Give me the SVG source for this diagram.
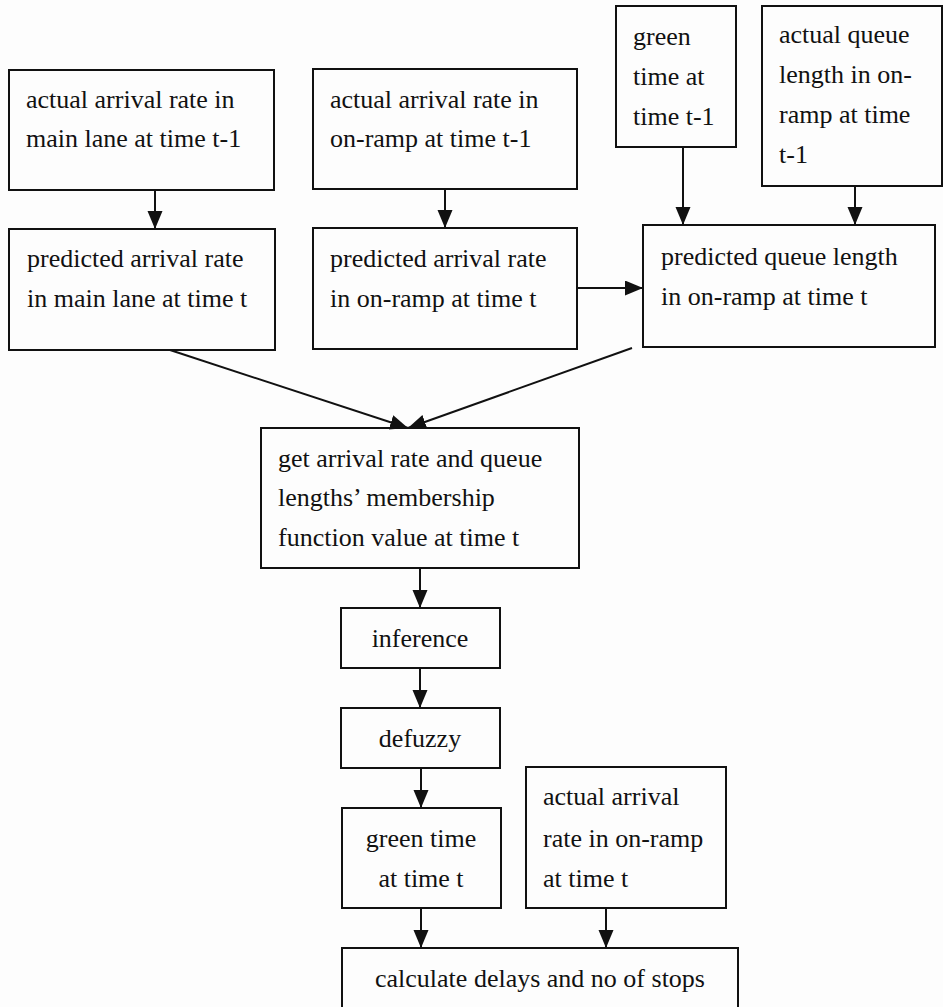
<svg xmlns="http://www.w3.org/2000/svg" width="943" height="1007" viewBox="0 0 943 1007">
<defs>
<style>
.box{fill:none;stroke:#111;stroke-width:2}
.t{font-family:"Liberation Serif","Times New Roman",serif;font-size:26px;fill:#111}
.c{text-anchor:middle}
.e{stroke:#111;stroke-width:2;fill:none;marker-end:url(#ah)}
</style>
<marker id="ah" markerUnits="userSpaceOnUse" markerWidth="18" markerHeight="16" refX="18" refY="7.5" orient="auto">
<path d="M0,0 L18,7.5 L0,15 Z" fill="#111"/>
</marker>
</defs>
<rect width="943" height="1007" fill="#fdfdfd"/>
<g id="connectors">
<line class="e" x1="155" y1="190" x2="155" y2="229"/>
<line class="e" x1="445" y1="189" x2="445" y2="228"/>
<line class="e" x1="683" y1="147" x2="683" y2="225"/>
<line class="e" x1="855" y1="186" x2="855" y2="225"/>
<line class="e" x1="577" y1="288" x2="643" y2="288"/>
<line class="e" x1="170" y1="350" x2="408" y2="428"/>
<line class="e" x1="632" y1="348" x2="408" y2="428"/>
<line class="e" x1="420" y1="568" x2="420" y2="608"/>
<line class="e" x1="420" y1="668" x2="420" y2="708"/>
<line class="e" x1="421" y1="768" x2="421" y2="808"/>
<line class="e" x1="421" y1="908" x2="421" y2="948"/>
<line class="e" x1="606" y1="908" x2="606" y2="948"/>
</g>
<g id="n_actual_main">
<rect class="box" x="9" y="70" width="265" height="120"/>
<text class="t" x="26" y="108">actual arrival rate in</text>
<text class="t" x="26" y="147">main lane at time t-1</text>
</g>
<g id="n_actual_ramp">
<rect class="box" x="313" y="69" width="264" height="120"/>
<text class="t" x="330" y="108">actual arrival rate in</text>
<text class="t" x="330" y="147">on-ramp at time t-1</text>
</g>
<g id="n_green_prev">
<rect class="box" x="616" y="6" width="120" height="141"/>
<text class="t" x="633" y="45">green</text>
<text class="t" x="633" y="85">time at</text>
<text class="t" x="633" y="125">time t-1</text>
</g>
<g id="n_queue_prev">
<rect class="box" x="762" y="6" width="180" height="180"/>
<text class="t" x="779" y="43">actual queue</text>
<text class="t" x="779" y="83">length in on-</text>
<text class="t" x="779" y="123">ramp at time</text>
<text class="t" x="779" y="163">t-1</text>
</g>
<g id="n_pred_main">
<rect class="box" x="9" y="229" width="266" height="121"/>
<text class="t" x="27" y="267">predicted arrival rate</text>
<text class="t" x="27" y="307">in main lane at time t</text>
</g>
<g id="n_pred_ramp">
<rect class="box" x="313" y="228" width="264" height="121"/>
<text class="t" x="330" y="267">predicted arrival rate</text>
<text class="t" x="330" y="307">in on-ramp at time t</text>
</g>
<g id="n_pred_queue">
<rect class="box" x="643" y="225" width="292" height="122"/>
<text class="t" x="661" y="265">predicted queue length</text>
<text class="t" x="661" y="305">in on-ramp at time t</text>
</g>
<g id="n_membership">
<rect class="box" x="261" y="428" width="318" height="140"/>
<text class="t" x="278" y="467">get arrival rate and queue</text>
<text class="t" x="278" y="506">lengths’ membership</text>
<text class="t" x="278" y="546">function value at time t</text>
</g>
<g id="n_inference">
<rect class="box" x="341" y="608" width="159" height="60"/>
<text class="t c" x="420" y="647">inference</text>
</g>
<g id="n_defuzzy">
<rect class="box" x="341" y="708" width="159" height="60"/>
<text class="t c" x="420" y="747">defuzzy</text>
</g>
<g id="n_green_t">
<rect class="box" x="342" y="808" width="159" height="100"/>
<text class="t c" x="421" y="847">green time</text>
<text class="t c" x="421" y="887">at time t</text>
</g>
<g id="n_actual_ramp_t">
<rect class="box" x="526" y="767" width="200" height="141"/>
<text class="t" x="543" y="805">actual arrival</text>
<text class="t" x="543" y="847">rate in on-ramp</text>
<text class="t" x="543" y="887">at time t</text>
</g>
<g id="n_calc">
<rect class="box" x="342" y="948" width="396" height="70"/>
<text class="t c" x="540" y="987">calculate delays and no of stops</text>
</g>
</svg>
